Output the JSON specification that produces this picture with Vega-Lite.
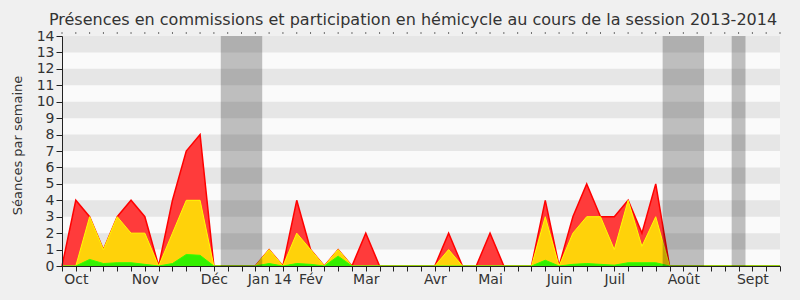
{
  "$schema": "https://vega.github.io/schema/vega-lite/v6.json",
  "width": 718,
  "height": 230,
  "autosize": {"type": "none"},
  "padding": {"left": 62, "top": 36, "right": 20, "bottom": 34},
  "background": "#f0f0f0",
  "config": {
    "font": "DejaVu Sans",
    "view": {"fill": "#fafafa", "stroke": null},
    "axis": {
      "labelFontSize": 14,
      "labelColor": "#333333",
      "tickColor": "#222222",
      "domainColor": "#222222",
      "grid": false,
      "labelOverlap": false,
      "labelFlush": false,
      "labelBound": false,
      "titleFontWeight": "normal",
      "titleColor": "#333333",
      "titleFontSize": 13
    },
    "axisX": {"tickSize": 5, "labelPadding": 1},
    "axisY": {"tickSize": 6, "labelPadding": 2, "titlePadding": 13}
  },
  "title": {
    "text": "Présences en commissions et participation en hémicycle au cours de la session 2013-2014",
    "fontSize": 16,
    "fontWeight": "normal",
    "color": "#333333",
    "anchor": "middle",
    "offset": 1,
    "dx": -8
  },
  "datasets": {
    "semaines": [
      {"w": 0, "rouge": 0, "jaune": 0, "vert": 0},
      {"w": 1, "rouge": 4, "jaune": 0, "vert": 0},
      {"w": 2, "rouge": 3, "jaune": 3, "vert": 0.4},
      {"w": 3, "rouge": 1, "jaune": 1, "vert": 0.15},
      {"w": 4, "rouge": 3, "jaune": 3, "vert": 0.2},
      {"w": 5, "rouge": 4, "jaune": 2, "vert": 0.2},
      {"w": 6, "rouge": 3, "jaune": 2, "vert": 0.1},
      {"w": 7, "rouge": 0, "jaune": 0, "vert": 0},
      {"w": 8, "rouge": 4, "jaune": 2, "vert": 0.15},
      {"w": 9, "rouge": 7, "jaune": 4, "vert": 0.7},
      {"w": 10, "rouge": 8, "jaune": 4, "vert": 0.65},
      {"w": 11, "rouge": 0, "jaune": 0, "vert": 0},
      {"w": 12, "rouge": 0, "jaune": 0, "vert": 0},
      {"w": 13, "rouge": 0, "jaune": 0, "vert": 0},
      {"w": 14, "rouge": 0, "jaune": 0, "vert": 0},
      {"w": 15, "rouge": 1, "jaune": 1, "vert": 0.15},
      {"w": 16, "rouge": 0, "jaune": 0, "vert": 0},
      {"w": 17, "rouge": 4, "jaune": 2, "vert": 0.15},
      {"w": 18, "rouge": 1, "jaune": 1, "vert": 0.1},
      {"w": 19, "rouge": 0, "jaune": 0, "vert": 0},
      {"w": 20, "rouge": 1, "jaune": 1, "vert": 0.6},
      {"w": 21, "rouge": 0, "jaune": 0, "vert": 0},
      {"w": 22, "rouge": 2, "jaune": 0, "vert": 0},
      {"w": 23, "rouge": 0, "jaune": 0, "vert": 0},
      {"w": 24, "rouge": 0, "jaune": 0, "vert": 0},
      {"w": 25, "rouge": 0, "jaune": 0, "vert": 0},
      {"w": 26, "rouge": 0, "jaune": 0, "vert": 0},
      {"w": 27, "rouge": 0, "jaune": 0, "vert": 0},
      {"w": 28, "rouge": 2, "jaune": 1, "vert": 0},
      {"w": 29, "rouge": 0, "jaune": 0, "vert": 0},
      {"w": 30, "rouge": 0, "jaune": 0, "vert": 0},
      {"w": 31, "rouge": 2, "jaune": 0, "vert": 0},
      {"w": 32, "rouge": 0, "jaune": 0, "vert": 0},
      {"w": 33, "rouge": 0, "jaune": 0, "vert": 0},
      {"w": 34, "rouge": 0, "jaune": 0, "vert": 0},
      {"w": 35, "rouge": 4, "jaune": 3, "vert": 0.35},
      {"w": 36, "rouge": 0, "jaune": 0, "vert": 0},
      {"w": 37, "rouge": 3, "jaune": 2, "vert": 0.1},
      {"w": 38, "rouge": 5, "jaune": 3, "vert": 0.15},
      {"w": 39, "rouge": 3, "jaune": 3, "vert": 0.1},
      {"w": 40, "rouge": 3, "jaune": 1, "vert": 0.05},
      {"w": 41, "rouge": 4, "jaune": 4, "vert": 0.2},
      {"w": 42, "rouge": 2, "jaune": 1.2, "vert": 0.2},
      {"w": 43, "rouge": 5, "jaune": 3, "vert": 0.2},
      {"w": 44, "rouge": 0, "jaune": 0, "vert": 0},
      {"w": 45, "rouge": 0, "jaune": 0, "vert": 0},
      {"w": 46, "rouge": 0, "jaune": 0, "vert": 0},
      {"w": 47, "rouge": 0, "jaune": 0, "vert": 0},
      {"w": 48, "rouge": 0, "jaune": 0, "vert": 0},
      {"w": 49, "rouge": 0, "jaune": 0, "vert": 0},
      {"w": 50, "rouge": 0, "jaune": 0, "vert": 0},
      {"w": 51, "rouge": 0, "jaune": 0, "vert": 0},
      {"w": 52, "rouge": 0, "jaune": 0, "vert": 0}
    ],
    "bandes": [
      {"lo": 1, "hi": 2}, {"lo": 3, "hi": 4}, {"lo": 5, "hi": 6},
      {"lo": 7, "hi": 8}, {"lo": 9, "hi": 10}, {"lo": 11, "hi": 12},
      {"lo": 13, "hi": 14}
    ],
    "vacances": [
      {"debut": 11.5, "fin": 14.5},
      {"debut": 43.5, "fin": 46.5},
      {"debut": 48.5, "fin": 49.5}
    ]
  },
  "layer": [
    {
      "data": {"name": "bandes"},
      "mark": {"type": "rect", "color": "#e6e6e6"},
      "encoding": {
        "x": {
          "datum": 0, "type": "quantitative",
          "scale": {"domain": [0, 52], "nice": false, "zero": false},
          "axis": {"title": null, "zindex": 1, "values": [0,1,2,3,4,5,6,7,8,9,10,11,12,13,14,15,16,17,18,19,20,21,22,23,24,25,26,27,28,29,30,31,32,33,34,35,36,37,38,39,40,41,42,43,44,45,46,47,48,49,50,51,52], "labelExpr": "datum.value == 1 ? 'Oct' : datum.value == 6 ? 'Nov' : datum.value == 11 ? 'Déc' : datum.value == 15 ? 'Jan 14' : datum.value == 18 ? 'Fév' : datum.value == 22 ? 'Mar' : datum.value == 27 ? 'Avr' : datum.value == 31 ? 'Mai' : datum.value == 36 ? 'Juin' : datum.value == 40 ? 'Juil' : datum.value == 45 ? 'Août' : datum.value == 50 ? 'Sept' : ''"}
        },
        "x2": {"datum": 52},
        "y": {
          "field": "lo", "type": "quantitative",
          "scale": {"domain": [0, 14], "nice": false},
          "axis": {"title": "Séances par semaine", "zindex": 1, "titleX": -38, "titleY": 109, "values": [0,1,2,3,4,5,6,7,8,9,10,11,12,13,14]}
        },
        "y2": {"field": "hi"}
      }
    },
    {
      "data": {"name": "semaines"},
      "mark": {"type": "area", "color": "#ff3b3b", "opacity": 1, "line": {"color": "#ff0000", "strokeWidth": 1.5}},
      "encoding": {
        "x": {"field": "w", "type": "quantitative",
          "axis": {"title": null, "zindex": 1, "values": [0,1,2,3,4,5,6,7,8,9,10,11,12,13,14,15,16,17,18,19,20,21,22,23,24,25,26,27,28,29,30,31,32,33,34,35,36,37,38,39,40,41,42,43,44,45,46,47,48,49,50,51,52], "labelExpr": "datum.value == 1 ? 'Oct' : datum.value == 6 ? 'Nov' : datum.value == 11 ? 'Déc' : datum.value == 15 ? 'Jan 14' : datum.value == 18 ? 'Fév' : datum.value == 22 ? 'Mar' : datum.value == 27 ? 'Avr' : datum.value == 31 ? 'Mai' : datum.value == 36 ? 'Juin' : datum.value == 40 ? 'Juil' : datum.value == 45 ? 'Août' : datum.value == 50 ? 'Sept' : ''"}},
        "y": {"field": "rouge", "type": "quantitative",
          "axis": {"title": "Séances par semaine", "zindex": 1, "titleX": -38, "titleY": 109, "values": [0,1,2,3,4,5,6,7,8,9,10,11,12,13,14]}}
      }
    },
    {
      "data": {"name": "semaines"},
      "mark": {"type": "area", "color": "#ffd20a", "opacity": 1, "line": {"color": "#ffff00", "strokeWidth": 1}},
      "encoding": {
        "x": {"field": "w", "type": "quantitative",
          "axis": {"title": null, "zindex": 1, "values": [0,1,2,3,4,5,6,7,8,9,10,11,12,13,14,15,16,17,18,19,20,21,22,23,24,25,26,27,28,29,30,31,32,33,34,35,36,37,38,39,40,41,42,43,44,45,46,47,48,49,50,51,52], "labelExpr": "datum.value == 1 ? 'Oct' : datum.value == 6 ? 'Nov' : datum.value == 11 ? 'Déc' : datum.value == 15 ? 'Jan 14' : datum.value == 18 ? 'Fév' : datum.value == 22 ? 'Mar' : datum.value == 27 ? 'Avr' : datum.value == 31 ? 'Mai' : datum.value == 36 ? 'Juin' : datum.value == 40 ? 'Juil' : datum.value == 45 ? 'Août' : datum.value == 50 ? 'Sept' : ''"}},
        "y": {"field": "jaune", "type": "quantitative",
          "axis": {"title": "Séances par semaine", "zindex": 1, "titleX": -38, "titleY": 109, "values": [0,1,2,3,4,5,6,7,8,9,10,11,12,13,14]}}
      }
    },
    {
      "data": {"name": "semaines"},
      "mark": {"type": "area", "color": "#33f000", "opacity": 1, "line": {"color": "#33ff00", "strokeWidth": 1}},
      "encoding": {
        "x": {"field": "w", "type": "quantitative",
          "axis": {"title": null, "zindex": 1, "values": [0,1,2,3,4,5,6,7,8,9,10,11,12,13,14,15,16,17,18,19,20,21,22,23,24,25,26,27,28,29,30,31,32,33,34,35,36,37,38,39,40,41,42,43,44,45,46,47,48,49,50,51,52], "labelExpr": "datum.value == 1 ? 'Oct' : datum.value == 6 ? 'Nov' : datum.value == 11 ? 'Déc' : datum.value == 15 ? 'Jan 14' : datum.value == 18 ? 'Fév' : datum.value == 22 ? 'Mar' : datum.value == 27 ? 'Avr' : datum.value == 31 ? 'Mai' : datum.value == 36 ? 'Juin' : datum.value == 40 ? 'Juil' : datum.value == 45 ? 'Août' : datum.value == 50 ? 'Sept' : ''"}},
        "y": {"field": "vert", "type": "quantitative",
          "axis": {"title": "Séances par semaine", "zindex": 1, "titleX": -38, "titleY": 109, "values": [0,1,2,3,4,5,6,7,8,9,10,11,12,13,14]}}
      }
    },
    {
      "data": {"name": "vacances"},
      "mark": {"type": "rect", "color": "#000000", "opacity": 0.24},
      "encoding": {
        "x": {"field": "debut", "type": "quantitative",
          "axis": {"title": null, "zindex": 1, "values": [0,1,2,3,4,5,6,7,8,9,10,11,12,13,14,15,16,17,18,19,20,21,22,23,24,25,26,27,28,29,30,31,32,33,34,35,36,37,38,39,40,41,42,43,44,45,46,47,48,49,50,51,52], "labelExpr": "datum.value == 1 ? 'Oct' : datum.value == 6 ? 'Nov' : datum.value == 11 ? 'Déc' : datum.value == 15 ? 'Jan 14' : datum.value == 18 ? 'Fév' : datum.value == 22 ? 'Mar' : datum.value == 27 ? 'Avr' : datum.value == 31 ? 'Mai' : datum.value == 36 ? 'Juin' : datum.value == 40 ? 'Juil' : datum.value == 45 ? 'Août' : datum.value == 50 ? 'Sept' : ''"}},
        "x2": {"field": "fin"},
        "y": {"datum": 0, "type": "quantitative",
          "axis": {"title": "Séances par semaine", "zindex": 1, "titleX": -38, "titleY": 109, "values": [0,1,2,3,4,5,6,7,8,9,10,11,12,13,14]}},
        "y2": {"datum": 14}
      }
    },
    {
      "data": {"name": "semaines"},
      "mark": {"type": "tick", "orient": "vertical", "size": 1.5, "thickness": 1, "color": "#444444", "yOffset": -3, "opacity": 1},
      "encoding": {
        "x": {"field": "w", "type": "quantitative",
          "axis": {"title": null, "zindex": 1, "values": [0,1,2,3,4,5,6,7,8,9,10,11,12,13,14,15,16,17,18,19,20,21,22,23,24,25,26,27,28,29,30,31,32,33,34,35,36,37,38,39,40,41,42,43,44,45,46,47,48,49,50,51,52], "labelExpr": "datum.value == 1 ? 'Oct' : datum.value == 6 ? 'Nov' : datum.value == 11 ? 'Déc' : datum.value == 15 ? 'Jan 14' : datum.value == 18 ? 'Fév' : datum.value == 22 ? 'Mar' : datum.value == 27 ? 'Avr' : datum.value == 31 ? 'Mai' : datum.value == 36 ? 'Juin' : datum.value == 40 ? 'Juil' : datum.value == 45 ? 'Août' : datum.value == 50 ? 'Sept' : ''"}},
        "y": {"datum": 14, "type": "quantitative",
          "axis": {"title": "Séances par semaine", "zindex": 1, "titleX": -38, "titleY": 109, "values": [0,1,2,3,4,5,6,7,8,9,10,11,12,13,14]}}
      }
    }
  ]
}
